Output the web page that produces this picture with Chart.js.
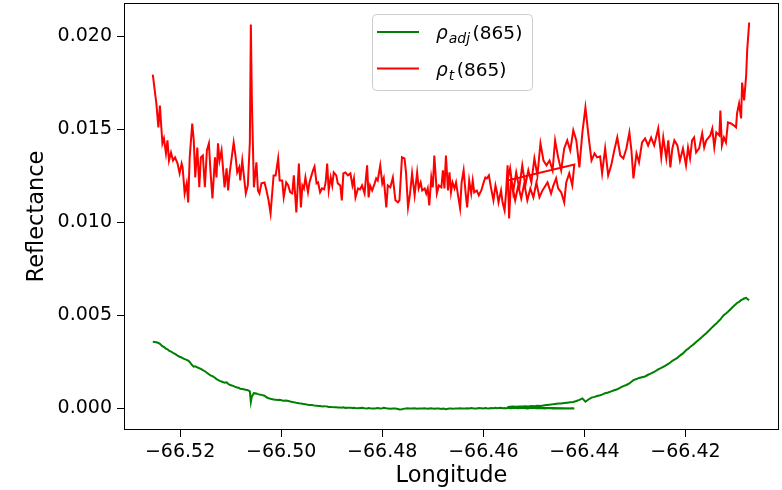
<!DOCTYPE html>
<html>
<head>
<meta charset="utf-8">
<script src="https://cdn.jsdelivr.net/npm/chart.js@4"></script>
<style>
  html, body { margin: 0; padding: 0; background: #fff; }
  #wrap { width: 782px; height: 490px; }
</style>
</head>
<body>
<div id="wrap"><canvas id="myChart" width="782" height="490"></canvas></div>
<script>
// first pass of the scan (west -> east)
var lonScanA = [
  -66.5254, -66.5247, -66.5243, -66.5240, -66.5235, -66.5232, -66.5228, -66.5225, -66.5222, -66.5218,
  -66.5214, -66.5210, -66.5205, -66.5201, -66.5197, -66.5195, -66.5191, -66.5187, -66.5184, -66.5181,
  -66.5176, -66.5173, -66.5170, -66.5166, -66.5162, -66.5159, -66.5155, -66.5151, -66.5147, -66.5143,
  -66.5140, -66.5136, -66.5131, -66.5128, -66.5125, -66.5122, -66.5118, -66.5112, -66.5108, -66.5105,
  -66.5102, -66.5094, -66.5090, -66.5087, -66.5083, -66.5081, -66.5077, -66.5070, -66.5066, -66.5062,
  -66.5060, -66.5058, -66.5054, -66.5049, -66.5046, -66.5043, -66.5039, -66.5033, -66.5029, -66.5025,
  -66.5021, -66.5015, -66.5011, -66.5006, -66.5003, -66.4998, -66.4995, -66.4990, -66.4986, -66.4982,
  -66.4978, -66.4975, -66.4970, -66.4965, -66.4961, -66.4958, -66.4955, -66.4952, -66.4947, -66.4944,
  -66.4940, -66.4937, -66.4934, -66.4930, -66.4927, -66.4923, -66.4919, -66.4915, -66.4912, -66.4909,
  -66.4906, -66.4902, -66.4899, -66.4896, -66.4891, -66.4888, -66.4883, -66.4880, -66.4877, -66.4873,
  -66.4868, -66.4863, -66.4859, -66.4856, -66.4853, -66.4848, -66.4844, -66.4840, -66.4835, -66.4830,
  -66.4827, -66.4824, -66.4820, -66.4815, -66.4812, -66.4809, -66.4804, -66.4800, -66.4797, -66.4792,
  -66.4789, -66.4784, -66.4779, -66.4774, -66.4769, -66.4766, -66.4761, -66.4756, -66.4753, -66.4749,
  -66.4745, -66.4741, -66.4736, -66.4731, -66.4728, -66.4724, -66.4721, -66.4716, -66.4713, -66.4710,
  -66.4707, -66.4703, -66.4700, -66.4697, -66.4692, -66.4688, -66.4683, -66.4680, -66.4677, -66.4674,
  -66.4670, -66.4667, -66.4664, -66.4661, -66.4657, -66.4654, -66.4651, -66.4646, -66.4643, -66.4639,
  -66.4635, -66.4632, -66.4628, -66.4624, -66.4621, -66.4618, -66.4613, -66.4609, -66.4604, -66.4600,
  -66.4596, -66.4593, -66.4589, -66.4585, -66.4580, -66.4576, -66.4573, -66.4570, -66.4565, -66.4562,
  -66.4558, -66.4555, -66.4552, -66.4549, -66.4545, -66.4542, -66.4537, -66.4531, -66.4525, -66.4519,
  -66.4513, -66.4507, -66.4501, -66.4495, -66.4489, -66.4483, -66.4479, -66.4473, -66.4466, -66.4462,
  -66.4456, -66.4452, -66.4446, -66.4440, -66.4436, -66.4430, -66.4424, -66.4420
];
var rhoTScanA = [
  0.01795, 0.01640, 0.01511, 0.01629, 0.01425, 0.01452, 0.01371, 0.01441, 0.01333, 0.01376,
  0.01333, 0.01350, 0.01317, 0.01264, 0.01317, 0.01296, 0.01156, 0.01210, 0.01108, 0.01350,
  0.01532, 0.01441, 0.01242, 0.01403, 0.01189, 0.01350, 0.01360, 0.01189, 0.01387, 0.01425,
  0.01280, 0.01129, 0.01350, 0.01242, 0.01425, 0.01333, 0.01387, 0.01189, 0.01291, 0.01172,
  0.01264, 0.01430, 0.01350, 0.01269, 0.01296, 0.01226, 0.01333, 0.01156, 0.01199, 0.01430,
  0.02064, 0.01656, 0.01189, 0.01323, 0.01172, 0.01156, 0.01210, 0.01215, 0.01172, 0.01119,
  0.01049, 0.01253, 0.01253, 0.01344, 0.01226, 0.01226, 0.01135, 0.01215, 0.01199, 0.01162,
  0.01156, 0.01253, 0.01054, 0.01317, 0.01081, 0.01199, 0.01183, 0.01242, 0.01162, 0.01215,
  0.01253, 0.01280, 0.01301, 0.01210, 0.01215, 0.01162, 0.01183, 0.01178, 0.01215, 0.01317,
  0.01172, 0.01242, 0.01199, 0.01269, 0.01253, 0.01210, 0.01199, 0.01119, 0.01264, 0.01269,
  0.01253, 0.01264, 0.01199, 0.01237, 0.01135, 0.01183, 0.01178, 0.01199, 0.01156, 0.01307,
  0.01135, 0.01199, 0.01172, 0.01210, 0.01237, 0.01226, 0.01307, 0.01210, 0.01237, 0.01081,
  0.01199, 0.01189, 0.01242, 0.01119, 0.01108, 0.01119, 0.01350, 0.01344, 0.01269, 0.01081,
  0.01156, 0.01264, 0.01146, 0.01269, 0.01183, 0.01215, 0.01172, 0.01183, 0.01156, 0.01183,
  0.01092, 0.01242, 0.01189, 0.01360, 0.01156, 0.01199, 0.01189, 0.01280, 0.01183, 0.01360,
  0.01172, 0.01269, 0.01162, 0.01215, 0.01183, 0.01215, 0.01162, 0.01076, 0.01215, 0.01280,
  0.01156, 0.01081, 0.01226, 0.01156, 0.01226, 0.01162, 0.01172, 0.01146, 0.01172, 0.01210,
  0.01242, 0.01237, 0.01253, 0.01189, 0.01119, 0.01199, 0.01162, 0.01108, 0.01172, 0.01108,
  0.01065, 0.01162, 0.01307, 0.01022, 0.01242, 0.01189, 0.01119, 0.01199, 0.01129, 0.01210,
  0.01119, 0.01183, 0.01135, 0.01215, 0.01135, 0.01172, 0.01189, 0.01215, 0.01156, 0.01194,
  0.01237, 0.01183, 0.01162, 0.01108, 0.01215, 0.01264, 0.01199, 0.01312
];
var rhoAdjScanA = [
  0.00358, 0.00356, 0.00352, 0.00347, 0.00334, 0.00331, 0.00322, 0.00318, 0.00311, 0.00306,
  0.00299, 0.00293, 0.00284, 0.00278, 0.00274, 0.00270, 0.00265, 0.00261, 0.00257, 0.00250,
  0.00232, 0.00224, 0.00226, 0.00221, 0.00216, 0.00213, 0.00206, 0.00200, 0.00192, 0.00184,
  0.00178, 0.00174, 0.00165, 0.00158, 0.00154, 0.00148, 0.00145, 0.00138, 0.00140, 0.00133,
  0.00127, 0.00120, 0.00115, 0.00112, 0.00110, 0.00106, 0.00104, 0.00100, 0.00098, 0.00092,
  0.00035, 0.00065, 0.00082, 0.00080, 0.00077, 0.00075, 0.00073, 0.00068, 0.00060, 0.00055,
  0.00052, 0.00048, 0.00047, 0.00045, 0.00046, 0.00043, 0.00041, 0.00042, 0.00040, 0.00037,
  0.00035, 0.00033, 0.00030, 0.00028, 0.00027, 0.00025, 0.00024, 0.00022, 0.00020, 0.00019,
  0.00019, 0.00017, 0.00016, 0.00015, 0.00013, 0.00013, 0.00011, 0.00012, 0.00011, 0.00010,
  0.00008, 0.00008, 0.00007, 0.00006, 0.00006, 0.00005, 0.00005, 0.00004, 0.00006, 0.00003,
  0.00004, 0.00003, 0.00002, 0.00003, 0.00002, 0.00001, 0.00002, 0.00003, 0.00001, 0.00000,
  0.00002, 0.00001, 0.00000, -0.00001, 0.00001, 0.00002, 0.00000, 0.00001, 0.00003, 0.00001,
  0.00000, -0.00002, 0.00000, -0.00001, -0.00003, -0.00006, -0.00004, -0.00001, 0.00000, 0.00001,
  -0.00001, 0.00000, 0.00001, -0.00002, 0.00000, -0.00001, 0.00000, 0.00001, -0.00001, -0.00002,
  0.00000, 0.00001, -0.00001, -0.00002, 0.00000, -0.00001, -0.00003, -0.00001, -0.00002, -0.00004,
  -0.00002, -0.00001, 0.00000, -0.00002, -0.00001, 0.00000, -0.00001, 0.00001, 0.00000, -0.00001,
  0.00000, 0.00001, 0.00000, 0.00002, 0.00001, -0.00001, 0.00000, 0.00002, 0.00001, 0.00000,
  0.00002, 0.00001, 0.00000, 0.00002, 0.00001, 0.00003, 0.00001, 0.00002, 0.00003, 0.00001,
  0.00002, 0.00000, 0.00003, 0.00002, 0.00001, 0.00003, 0.00002, 0.00001, 0.00003, 0.00002,
  0.00000, 0.00002, 0.00003, 0.00001, 0.00002, 0.00001, 0.00000, 0.00002, 0.00001, 0.00000,
  0.00001, 0.00000, 0.00001, 0.00000, -0.00001, 0.00000, 0.00001, 0.00000
];

// second pass, starts back inside the first one
var lonScanB = [
  -66.4552, -66.4547, -66.4541, -66.4535, -66.4529, -66.4523, -66.4517, -66.4511, -66.4505, -66.4499,
  -66.4493, -66.4487, -66.4481, -66.4475, -66.4469, -66.4463, -66.4458, -66.4452, -66.4446, -66.4440,
  -66.4434, -66.4428, -66.4422, -66.4416, -66.4410, -66.4404, -66.4398, -66.4392, -66.4386, -66.4380,
  -66.4375, -66.4369, -66.4365, -66.4359, -66.4353, -66.4347, -66.4341, -66.4335, -66.4329, -66.4323,
  -66.4317, -66.4311, -66.4307, -66.4303, -66.4297, -66.4292, -66.4286, -66.4280, -66.4274, -66.4268,
  -66.4262, -66.4254, -66.4248, -66.4244, -66.4238, -66.4234, -66.4230, -66.4226, -66.4222, -66.4216,
  -66.4211, -66.4205, -66.4199, -66.4195, -66.4191, -66.4187, -66.4183, -66.4179, -66.4173, -66.4167,
  -66.4163, -66.4159, -66.4151, -66.4147, -66.4143, -66.4139, -66.4133, -66.4131, -66.4128, -66.4124,
  -66.4120, -66.4116, -66.4110, -66.4104, -66.4100, -66.4098, -66.4094, -66.4090, -66.4088, -66.4084,
  -66.4080, -66.4078, -66.4074
];
var rhoTScanB = [
  0.01226, 0.01291, 0.01162, 0.01269, 0.01183, 0.01307, 0.01199, 0.01280, 0.01215, 0.01344,
  0.01253, 0.01425, 0.01333, 0.01307, 0.01333, 0.01280, 0.01441, 0.01350, 0.01280, 0.01398,
  0.01441, 0.01387, 0.01495, 0.01441, 0.01296, 0.01484, 0.01618, 0.01468, 0.01333, 0.01371,
  0.01350, 0.01355, 0.01264, 0.01398, 0.01253, 0.01307, 0.01387, 0.01457, 0.01360, 0.01344,
  0.01398, 0.01484, 0.01387, 0.01237, 0.01371, 0.01323, 0.01430, 0.01452, 0.01414, 0.01457,
  0.01414, 0.01505, 0.01350, 0.01457, 0.01344, 0.01441, 0.01296, 0.01398, 0.01441, 0.01414,
  0.01333, 0.01398, 0.01307, 0.01403, 0.01344, 0.01441, 0.01457, 0.01376, 0.01398, 0.01479,
  0.01403, 0.01441, 0.01468, 0.01505, 0.01403, 0.01484, 0.01468, 0.01602, 0.01414, 0.01457,
  0.01430, 0.01538, 0.01532, 0.01521, 0.01511, 0.01586, 0.01640, 0.01559, 0.01752, 0.01656,
  0.01790, 0.01924, 0.02075
];
var rhoAdjScanB = [
  0.00008, 0.00009, 0.00010, 0.00009, 0.00011, 0.00010, 0.00012, 0.00011, 0.00013, 0.00012,
  0.00014, 0.00013, 0.00016, 0.00018, 0.00020, 0.00022, 0.00024, 0.00026, 0.00027, 0.00029,
  0.00031, 0.00033, 0.00035, 0.00040, 0.00046, 0.00054, 0.00036, 0.00048, 0.00058, 0.00062,
  0.00067, 0.00071, 0.00074, 0.00082, 0.00086, 0.00092, 0.00098, 0.00103, 0.00112, 0.00120,
  0.00126, 0.00134, 0.00143, 0.00152, 0.00158, 0.00164, 0.00168, 0.00172, 0.00181, 0.00188,
  0.00196, 0.00210, 0.00218, 0.00224, 0.00233, 0.00240, 0.00247, 0.00256, 0.00262, 0.00272,
  0.00284, 0.00296, 0.00313, 0.00320, 0.00330, 0.00338, 0.00347, 0.00357, 0.00371, 0.00385,
  0.00395, 0.00404, 0.00426, 0.00437, 0.00447, 0.00456, 0.00474, 0.00478, 0.00490, 0.00502,
  0.00510, 0.00520, 0.00536, 0.00552, 0.00562, 0.00567, 0.00573, 0.00582, 0.00585, 0.00591,
  0.00594, 0.00590, 0.00582
];

var xTicks = [-66.52, -66.50, -66.48, -66.46, -66.44, -66.42];
var yTicks = [0.000, 0.005, 0.010, 0.015, 0.020];
// legend label pieces: symbol, subscript, band
var legendParts = [['ρ', 'adj', '(865)'], ['ρ', 't', '(865)']];

function toPoints(lons, vals) {
  return lons.map(function (lon, i) { return { x: lon, y: vals[i] }; });
}

var lon = lonScanA.concat(lonScanB);
var adjPoints = toPoints(lon, rhoAdjScanA.concat(rhoAdjScanB));
var tPoints = toPoints(lon, rhoTScanA.concat(rhoTScanB));

var FONT = '"DejaVu Sans", sans-serif';

// matplotlib-like axes frame on all four sides
var framePlugin = {
  id: 'frame',
  afterDatasetsDraw: function (chart) {
    var a = chart.chartArea, ctx = chart.ctx;
    ctx.save();
    ctx.strokeStyle = '#000';
    ctx.lineWidth = 1;
    ctx.strokeRect(a.left + 0.5, a.top + 0.5, a.right - a.left - 1, a.bottom - a.top - 1);
    ctx.restore();
  }
};

// legend with subscripts, upper center
var legendPlugin = {
  id: 'mplLegend',
  afterDraw: function (chart) {
    var ctx = chart.ctx, a = chart.chartArea;
    var w = 160, h = 76;
    var x0 = Math.round((a.left + a.right) / 2 - w / 2);
    var y0 = a.top + 11;
    ctx.save();
    ctx.beginPath();
    ctx.roundRect(x0 + 0.5, y0 + 0.5, w, h, 4);
    ctx.fillStyle = 'rgba(255,255,255,0.8)';
    ctx.fill();
    ctx.strokeStyle = '#cccccc';
    ctx.lineWidth = 1;
    ctx.stroke();
    chart.data.datasets.forEach(function (ds, i) {
      var cy = y0 + 18 + i * 36.5;
      ctx.strokeStyle = ds.borderColor;
      ctx.lineWidth = 2;
      ctx.beginPath();
      ctx.moveTo(x0 + 5, cy);
      ctx.lineTo(x0 + 47, cy);
      ctx.stroke();
      var p = legendParts[i];
      var tx = x0 + 64, base = cy + 7;
      ctx.fillStyle = '#000';
      ctx.textBaseline = 'alphabetic';
      ctx.textAlign = 'left';
      ctx.font = 'italic 18.5px ' + FONT;
      ctx.fillText(p[0], tx, base);
      tx += ctx.measureText(p[0]).width + 1;
      ctx.font = 'italic 14px ' + FONT;
      ctx.fillText(p[1], tx, base + 4);
      tx += ctx.measureText(p[1]).width + 2.5;
      ctx.font = '18.5px ' + FONT;
      ctx.fillText(p[2], tx, base);
    });
    ctx.restore();
  }
};

var ctx = document.getElementById('myChart').getContext('2d');

var myChart = new Chart(ctx, {
  type: 'line',
  data: {
    datasets: [{
      label: 'ρadj(865)',
      data: adjPoints,
      borderColor: '#008000',
      borderWidth: 2,
      pointRadius: 0,
      tension: 0,
      fill: false
    }, {
      label: 'ρt(865)',
      data: tPoints,
      borderColor: '#ff0000',
      borderWidth: 2,
      pointRadius: 0,
      tension: 0,
      fill: false
    }]
  },
  options: {
    responsive: false,
    animation: false,
    devicePixelRatio: 1,
    layout: { padding: { top: 3, right: 3, left: 0, bottom: 0 } },
    plugins: {
      legend: { display: false },
      tooltip: { enabled: false }
    },
    scales: {
      x: {
        type: 'linear',
        min: -66.5311,
        max: -66.4015,
        afterBuildTicks: function (s) { s.ticks = xTicks.map(function (v) { return { value: v }; }); },
        afterFit: function (s) { s.height = 60; s.paddingLeft = 0; s.paddingRight = 0; },
        grid: { drawOnChartArea: false, drawTicks: true, tickLength: 7, tickColor: '#000', tickWidth: 1 },
        border: { display: false },
        ticks: {
          color: '#000',
          padding: 4,
          maxRotation: 0,
          font: { family: FONT, size: 19 },
          callback: function (v) { return v.toFixed(2).replace('-', '\u2212'); }
        },
        title: {
          display: true,
          text: 'Longitude',
          color: '#000',
          font: { family: FONT, size: 22.5 },
          padding: { top: 0, bottom: 0 }
        }
      },
      y: {
        min: -0.00116,
        max: 0.0218,
        afterBuildTicks: function (s) { s.ticks = yTicks.map(function (v) { return { value: v }; }); },
        afterFit: function (s) { s.width = 124; s.paddingTop = 0; s.paddingBottom = 0; },
        grid: { drawOnChartArea: false, drawTicks: true, tickLength: 7, tickColor: '#000', tickWidth: 1 },
        border: { display: false },
        ticks: {
          color: '#000',
          padding: 5,
          font: { family: FONT, size: 19 },
          callback: function (v) { return v.toFixed(3); }
        },
        title: {
          display: true,
          text: 'Reflectance',
          color: '#000',
          font: { family: FONT, size: 22.5 },
          padding: { top: 24, bottom: 0 }
        }
      }
    }
  },
  plugins: [framePlugin, legendPlugin]
});
</script>
</body>
</html>
